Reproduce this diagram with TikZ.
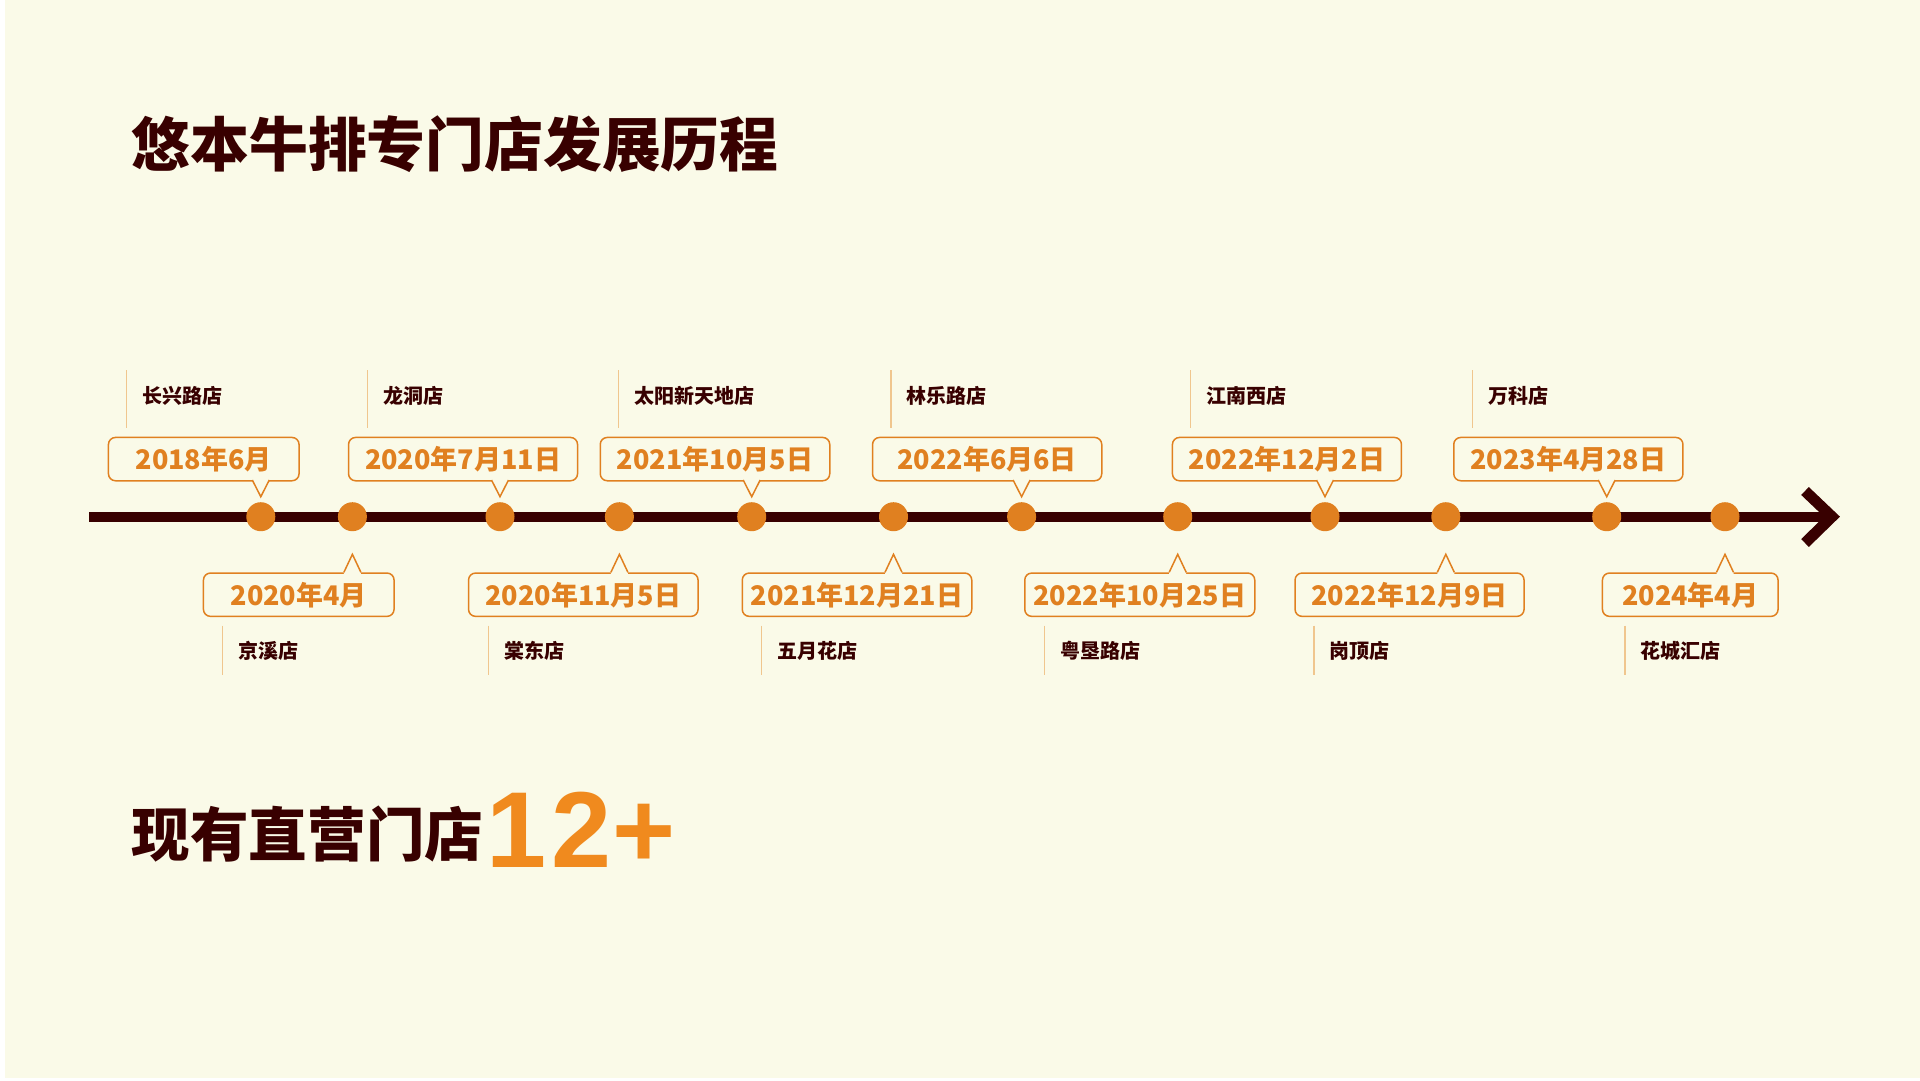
\documentclass[tikz,border=0pt]{standalone}
\usepackage{fontspec}
\newfontfamily\cjk{Noto Sans CJK SC}
\newfontfamily\latinb{Liberation Sans}
\IfFontExistsTF{Noto Sans CJK SC Black}
  {\newfontfamily\heavyfont{Noto Sans CJK SC Black}\newcommand\heavy{\heavyfont}}
  {\newcommand\heavy{\cjk\bfseries}}
\definecolor{bgc}{HTML}{FAFAE8}
\definecolor{darkc}{HTML}{380000}
\definecolor{orgc}{HTML}{E08020}
\definecolor{brightorg}{HTML}{F08A1E}
\definecolor{tickc}{HTML}{F0C68E}
\tikzset{
  datebox/.style={draw=orgc, line width=1.5pt, rounded corners=7pt, fill=bgc,
    minimum height=43.3pt, inner sep=0pt, text=orgc, anchor=north west,
    font=\cjk\bfseries\fontsize{27}{27}\selectfont},
  evdot/.style={circle, fill=orgc, minimum size=29pt, inner sep=0pt},
  store/.style={anchor=west, inner sep=0pt, text=darkc, font=\cjk\bfseries\fontsize{20}{20}\selectfont},
  tickline/.style={draw=tickc, line width=1.2pt},
  pointer/.style={draw=orgc, line width=1.5pt, line join=miter},
}
% #1 id, #2 dot x, #3 box left, #4 box width, #5 date, #6 tick x, #7 store
\newcommand\upev[7]{%
  \node[datebox, minimum width=#4pt] (b#1) at (#3,436.7) {#5};
  \fill[bgc] (#2-8.5,478) -- (#2+8.5,478) -- (#2+8.5,480) -- (#2,496.7) -- (#2-8.5,480) -- cycle;
  \draw[pointer] (#2-8.5,480) -- (#2,496.7) -- (#2+8.5,480);
  \coordinate (t#1a) at (#6,370);
  \coordinate (t#1b) at (#6,428);
  \draw[tickline] (t#1a) -- (t#1b);
  \node[store] (s#1) at (#6+15.5,396) {#7};
}
\newcommand\loev[7]{%
  \node[datebox, minimum width=#4pt] (b#1) at (#3,572.3) {#5};
  \fill[bgc] (#2-8.5,574.3) -- (#2+8.5,574.3) -- (#2+8.5,572.3) -- (#2,554.3) -- (#2-8.5,572.3) -- cycle;
  \draw[pointer] (#2-8.5,572.3) -- (#2,554.3) -- (#2+8.5,572.3);
  \coordinate (t#1a) at (#6,625.7);
  \coordinate (t#1b) at (#6,675);
  \draw[tickline] (t#1a) -- (t#1b);
  \node[store] (s#1) at (#6+15.5,650.7) {#7};
}
\begin{document}
\begin{tikzpicture}[x=1pt,y=-1pt]
\useasboundingbox (0,0) rectangle (1920,1080);
\fill[white] (0,0) rectangle (1920,1080);
\fill[bgc] (5,0) rectangle (1920,1077.5);

% title
\node[anchor=west, inner sep=0pt, text=darkc, font=\heavy\fontsize{58.8}{58.8}\selectfont] (title) at (131.5,144.5) {悠本牛排专门店发展历程};

% timeline
\coordinate (tstart) at (89.4,516.7);
\coordinate (tend) at (1832,516.7);
\coordinate (armtop) at (1805,491);
\coordinate (armbot) at (1805,543);
\draw[darkc, line width=10pt] (tstart) -- (tend);
\draw[darkc, line width=11pt, line join=miter] (armtop) -- (tend) -- (armbot);

% dots
\foreach \i/\x in {1/260.8,2/352.4,3/500,4/619.4,5/751.7,6/893.5,7/1021.6,8/1177.7,9/1325,10/1445.8,11/1606.7,12/1725}
  \node[evdot] (d\i) at (\x,516.7) {};

% events above
\upev{1}{260.8}{107.7}{190.6}{2018年6月}{126.7}{长兴路店}
\upev{3}{500}{347.8}{229}{2020年7月11日}{367.3}{龙洞店}
\upev{5}{751.7}{599.5}{229.5}{2021年10月5日}{618.7}{太阳新天地店}
\upev{7}{1021.6}{871.8}{229.2}{2022年6月6日}{891}{林乐路店}
\upev{9}{1325}{1171.7}{229}{2022年12月2日}{1190.7}{江南西店}
\upev{11}{1606.7}{1453}{229.2}{2023年4月28日}{1472.5}{万科店}

% events below
\loev{2}{352.4}{202.7}{190.6}{2020年4月}{222.3}{京溪店}
\loev{4}{619.4}{467.8}{229.5}{2020年11月5日}{488.3}{棠东店}
\loev{6}{893.5}{741.5}{229.5}{2021年12月21日}{761.7}{五月花店}
\loev{8}{1177.7}{1024}{230}{2022年10月25日}{1044.3}{粤垦路店}
\loev{10}{1445.8}{1294.3}{229}{2022年12月9日}{1314}{岗顶店}
\loev{12}{1725}{1601.7}{175.6}{2024年4月}{1625}{花城汇店}

% bottom
\node[anchor=west, inner sep=0pt, text=darkc, font=\heavy\fontsize{58.6}{58.6}\selectfont] (count) at (131.5,834) {现有直营门店};
\node[anchor=base west, inner sep=0pt, text=brightorg, font=\latinb\bfseries\fontsize{108}{108}\selectfont] (num) at (486,867) {1\kern5pt2\kern1pt+};
\end{tikzpicture}
\end{document}
